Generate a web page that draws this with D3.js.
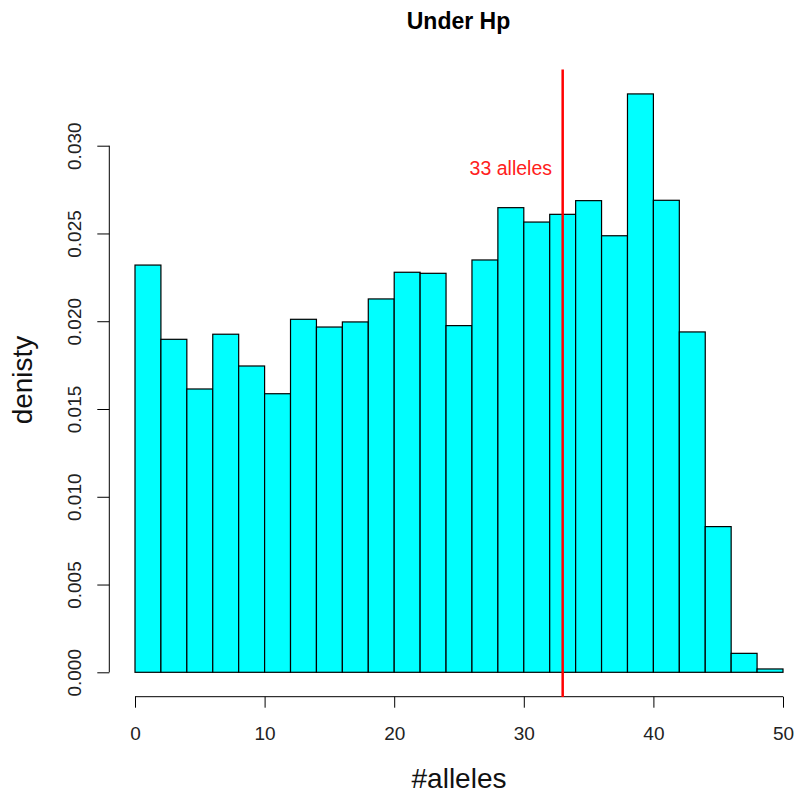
<!DOCTYPE html>
<html>
<head>
<meta charset="utf-8">
<script src="https://cdn.jsdelivr.net/npm/d3@7"></script>
<style>
  body { margin: 0; background: #fff; }
  svg text { font-family: "Liberation Sans", Arial, sans-serif; }
</style>
</head>
<body>
<svg id="chart" width="796" height="793"></svg>
<script>
// histogram bins (left edge, right edge) and densities
var binStart = [0, 2, 4, 6, 8, 10, 12, 14, 16, 18, 20, 22, 24, 26, 28, 30, 32, 34, 36, 38, 40, 42, 44, 46, 48];
var binEnd   = [2, 4, 6, 8, 10, 12, 14, 16, 18, 20, 22, 24, 26, 28, 30, 32, 34, 36, 38, 40, 42, 44, 46, 48, 50];
var density  = [0.02320, 0.01897, 0.01614, 0.01926, 0.01745, 0.01587, 0.02011, 0.01967, 0.01996, 0.02127,
                0.02279, 0.02273, 0.01975, 0.02349, 0.02647, 0.02565, 0.02609, 0.02687, 0.02487, 0.03295,
                0.02689, 0.01939, 0.00830, 0.00108, 0.00019];

var xTicks = [0, 10, 20, 30, 40, 50];
var yTicks = [0, 0.005, 0.010, 0.015, 0.020, 0.025, 0.030];
var markValue = 33;
var markLabel = "33 alleles";

var svg = d3.select("#chart");

var x = d3.scaleLinear().domain([0, 50]).range([135, 783]);
var y = d3.scaleLinear().domain([0, 0.03]).range([672.3, 145.7]);

var bars = binStart.map(function (s, i) {
    return {x0: s, x1: binEnd[i], d: density[i]};
});

// bars
svg.append("g")
    .selectAll("rect")
    .data(bars)
    .enter()
    .append("rect")
    .attr("x", function (d) { return x(d.x0); })
    .attr("y", function (d) { return y(d.d); })
    .attr("width", function (d) { return x(d.x1) - x(d.x0); })
    .attr("height", function (d) { return y(0) - y(d.d); })
    .attr("fill", "#00ffff")
    .attr("stroke", "#000")
    .attr("stroke-width", 1.2);

// y axis
var yAxis = svg.append("g")
    .attr("transform", "translate(109.3,0)")
    .call(d3.axisLeft(y).tickValues(yTicks).tickFormat(d3.format(".3f")).tickSize(12).tickSizeOuter(0));
yAxis.select(".domain").remove();
yAxis.append("line")
    .attr("x1", 0).attr("x2", 0)
    .attr("y1", y(yTicks[0])).attr("y2", y(yTicks[yTicks.length - 1]))
    .attr("stroke", "#000");
yAxis.selectAll(".tick line").attr("stroke", "#000");
yAxis.selectAll(".tick text")
    .attr("transform", "rotate(-90)")
    .attr("x", 0)
    .attr("y", -28.5)
    .attr("dy", 0)
    .attr("text-anchor", "middle")
    .attr("fill", "#222")
    .style("font-size", "19px");

// x axis
var xAxis = svg.append("g")
    .attr("transform", "translate(0,696.7)")
    .call(d3.axisBottom(x).tickValues(xTicks).tickFormat(d3.format("d")).tickSize(11).tickSizeOuter(0));
xAxis.select(".domain").remove();
xAxis.append("line")
    .attr("x1", x(xTicks[0])).attr("x2", x(xTicks[xTicks.length - 1]))
    .attr("y1", 0).attr("y2", 0)
    .attr("stroke", "#000");
xAxis.selectAll(".tick line").attr("stroke", "#000");
xAxis.selectAll(".tick text")
    .attr("y", 43.5)
    .attr("dy", 0)
    .attr("fill", "#222")
    .style("font-size", "19px");

// marker line at 33
svg.append("line")
    .attr("x1", x(markValue)).attr("x2", x(markValue))
    .attr("y1", 69.5).attr("y2", 697)
    .attr("stroke", "#ff0000")
    .attr("stroke-width", 2.5);

svg.append("text")
    .attr("x", 552)
    .attr("y", 174.5)
    .attr("text-anchor", "end")
    .attr("fill", "#ff2020")
    .style("font-size", "19.5px")
    .text(markLabel);

// title
svg.append("text")
    .attr("x", 458.5)
    .attr("y", 28.5)
    .attr("text-anchor", "middle")
    .style("font-size", "23px")
    .style("font-weight", "bold")
    .text("Under Hp");

// axis titles
svg.append("text")
    .attr("x", 459)
    .attr("y", 788)
    .attr("text-anchor", "middle")
    .attr("fill", "#111")
    .style("font-size", "28px")
    .text("#alleles");

svg.append("text")
    .attr("transform", "translate(32,380) rotate(-90)")
    .attr("text-anchor", "middle")
    .attr("fill", "#111")
    .style("font-size", "28px")
    .text("denisty");
</script>
</body>
</html>
